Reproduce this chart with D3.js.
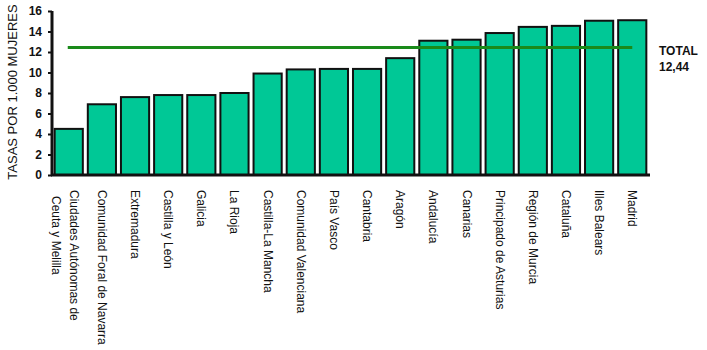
<!DOCTYPE html>
<html>
<head>
<meta charset="utf-8">
<script src="https://cdn.jsdelivr.net/npm/d3@7"></script>
<style>
  body { margin: 0; background: #fff; }
  text { font-family: "Liberation Sans", Arial, sans-serif; fill: #111; }
</style>
</head>
<body>
<svg width="707" height="350"></svg>
<script>
const regions = [
  ["Ciudades Autónomas de", "Ceuta y Melilla"],
  ["Comunidad Foral de Navarra"],
  ["Extremadura"],
  ["Castilla y León"],
  ["Galicia"],
  ["La Rioja"],
  ["Castilla-La Mancha"],
  ["Comunidad Valenciana"],
  ["País Vasco"],
  ["Cantabria"],
  ["Aragón"],
  ["Andalucía"],
  ["Canarias"],
  ["Principado de Asturias"],
  ["Región de Murcia"],
  ["Cataluña"],
  ["Illes Balears"],
  ["Madrid"]
];
const rates = [4.5, 6.9, 7.6, 7.8, 7.8, 8.0, 9.9, 10.3, 10.35, 10.35, 11.4, 13.1, 13.2, 13.85, 14.45, 14.55, 15.05, 15.1];
const yTicks = [0, 2, 4, 6, 8, 10, 12, 14, 16];
const total = 12.44;
const totalLabel = ["TOTAL", "12,44"];
const yTitle = "TASAS POR 1.000 MUJERES";

const svg = d3.select("svg");
const data = regions.map((r, i) => ({ key: i, lines: r, value: rates[i] }));

const x = d3.scaleBand()
  .domain(data.map(d => d.key))
  .range([53, 648])
  .paddingInner(0.15)
  .paddingOuter(0.05);

const y = d3.scaleLinear().domain([0, 16]).range([175, 11]);

// bars
svg.append("g").selectAll("rect")
  .data(data)
  .join("rect")
    .attr("x", d => x(d.key))
    .attr("y", d => y(d.value))
    .attr("width", x.bandwidth())
    .attr("height", d => y(0) - y(d.value))
    .attr("fill", "#00c896")
    .attr("stroke", "#111")
    .attr("stroke-width", 2);

// total line
svg.append("line")
  .attr("x1", x(0) + x.bandwidth() / 2 - 1)
  .attr("x2", x(17) + x.bandwidth() / 2)
  .attr("y1", y(total))
  .attr("y2", y(total))
  .attr("stroke", "#1a8a1a")
  .attr("stroke-width", 3);

svg.append("text")
  .attr("x", 659)
  .attr("y", y(total) + 8)
  .style("font-size", "12px")
  .style("font-weight", "bold")
  .selectAll("tspan")
  .data(totalLabel)
  .join("tspan")
    .attr("x", 659)
    .attr("dy", (d, i) => i ? 16 : 0)
    .text(d => d);

// y axis
const yAxis = svg.append("g")
  .attr("transform", "translate(52,0)")
  .call(d3.axisLeft(y).tickValues(yTicks).tickSize(4).tickFormat(d3.format("d")));
yAxis.select(".domain").attr("stroke", "#111").attr("stroke-width", 3).attr("d", `M0,${y(16)}V${y(0)}`);
yAxis.selectAll(".tick line").attr("stroke", "#111").attr("stroke-width", 2);
yAxis.selectAll(".tick text")
  .attr("x", -10)
  .style("font-family", "Liberation Sans, Arial, sans-serif")
  .style("font-size", "12px")
  .style("font-weight", "bold")
  .attr("fill", "#111");

// x axis baseline
svg.append("line")
  .attr("x1", 51).attr("x2", 650)
  .attr("y1", y(0)).attr("y2", y(0))
  .attr("stroke", "#111").attr("stroke-width", 3);

// category labels, rotated
const lab = svg.append("g").selectAll("text")
  .data(data)
  .join("text")
    .attr("transform", d => `translate(${x(d.key) + x.bandwidth() / 2},188) rotate(90)`)
    .style("font-size", "12px");
lab.selectAll("tspan")
  .data(d => d.lines.map((t, i) => ({ t, i, n: d.lines.length })))
  .join("tspan")
    .attr("x", d => d.i ? 8 : 2)
    .attr("y", d => d.n > 1 ? (d.i ? 13 : -5) + 4 : 4)
    .text(d => d.t);

// y title
svg.append("text")
  .attr("transform", `translate(17,${(y(0) + y(16)) / 2 - 1}) rotate(-90)`)
  .attr("text-anchor", "middle")
  .style("font-size", "13px")
  .text(yTitle);
</script>
</body>
</html>
